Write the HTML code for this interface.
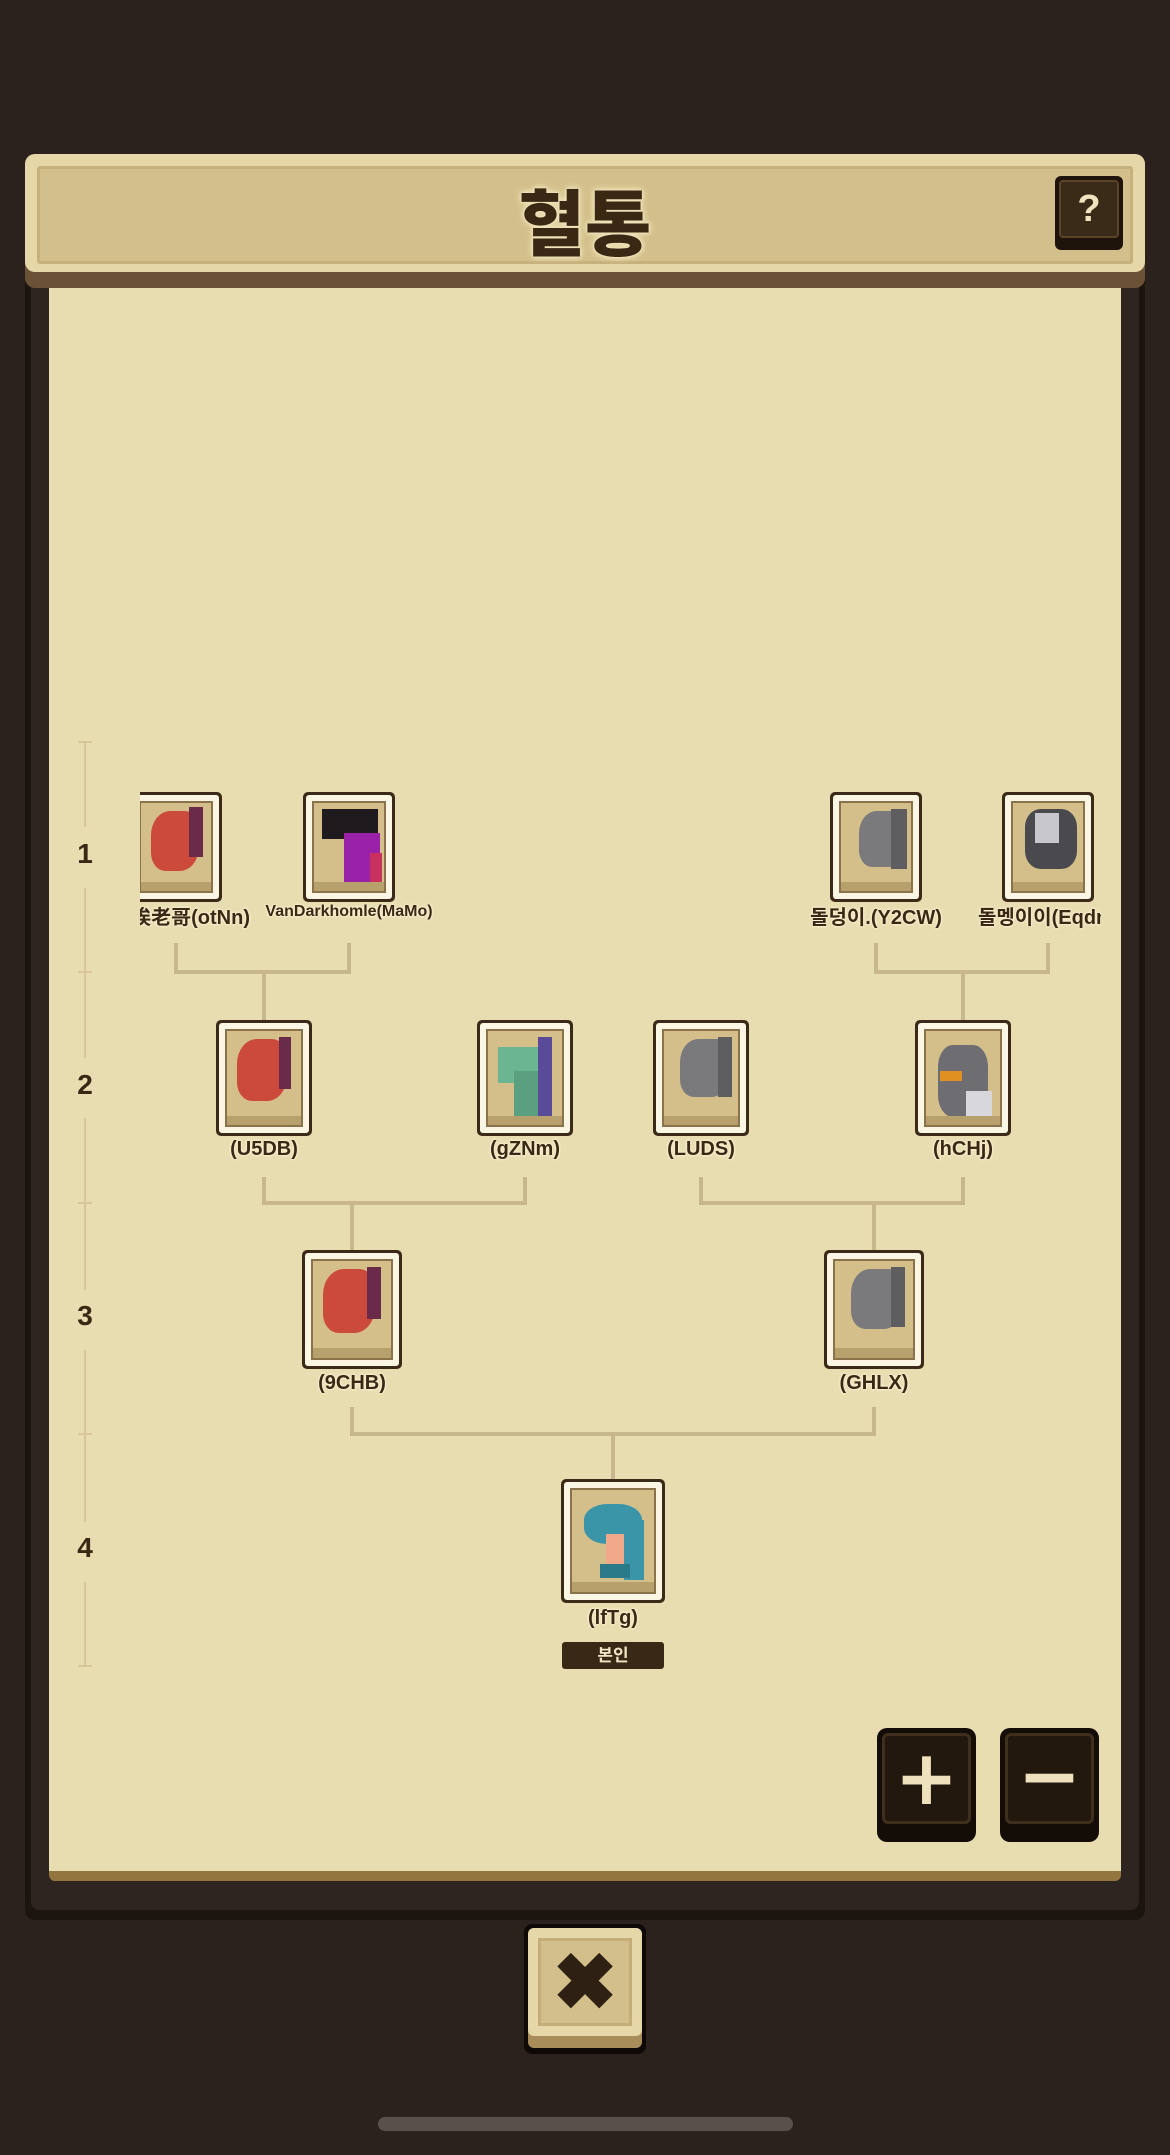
<!DOCTYPE html>
<html><head><meta charset="utf-8"><style>
*{margin:0;padding:0;box-sizing:border-box}
body{width:1170px;height:2155px;background:#2b211d;position:relative;overflow:hidden;font-family:"Liberation Sans","Noto Sans CJK KR",sans-serif}
.a{position:absolute}
.frame{left:25px;top:270px;width:1120px;height:1650px;background:#1c140f;border-radius:10px}
.frame2{left:31px;top:276px;width:1108px;height:1634px;background:#2f2520;border-radius:8px}
.paper{left:49px;top:285px;width:1072px;height:1596px;background:#e8ddb0;border-bottom:10px solid #93763f;border-radius:0 0 6px 6px}
.hdr{left:25px;top:154px;width:1120px;height:134px;background:#6b5236;border-radius:10px}
.hdr1{left:25px;top:154px;width:1120px;height:118px;background:#e6d7a8;border-radius:10px}
.hdr2{left:37px;top:166px;width:1096px;height:98px;background:#d3bf8b;border:3px solid #c6b07c;border-radius:3px}
.title{left:0;width:1170px;top:166px;text-align:center;font-size:72px;font-weight:900;color:#3a2815;text-shadow:0 0 8px #efe2b8,0 0 6px #efe2b8,0 0 4px #efe2b8,0 0 2px #efe2b8}
.q{left:1055px;top:176px;width:68px;height:74px;background:#1e140c;border-radius:6px}
.q div{position:absolute;left:4px;top:4px;width:60px;height:58px;background:#3a2a18;border:2px solid #5a4328;border-radius:4px;color:#f0e3c0;font-size:38px;font-weight:bold;text-align:center;line-height:54px}
.card{position:absolute;background:#3b2a18;border-radius:5px;padding:3px}
.card .f{width:100%;height:100%;background:#fbf5e4;border-radius:3px;padding:6px}
.card .i{width:100%;height:100%;background:#d4bf8a;border:2px solid #8a734a;position:relative;overflow:hidden}
.card .i:after{content:"";position:absolute;left:0;right:0;bottom:0;height:10%;background:#b8a06c}
.lbl{position:absolute;font-size:20px;font-weight:bold;color:#3a2815;text-align:center;white-space:nowrap;text-shadow:0 0 3px #fff6dc,0 0 2px #fff6dc}
.ln{position:absolute;background:#c8b78e}
.gl{position:absolute;font-size:28px;font-weight:bold;color:#3a2815;left:70px;width:30px;text-align:center}
.btn{position:absolute;background:#140c06;border-radius:10px}
.btn div{position:absolute;left:5px;top:5px;right:5px;bottom:18px;background:#23180e;border:3px solid #3f2f1c;border-radius:6px;color:#efe1bd;text-align:center;font-weight:bold;font-family:"DejaVu Sans",sans-serif}
</style></head><body>
<div class="a frame"></div><div class="a frame2"></div>
<div class="a paper"></div>
<div class="a hdr"></div><div class="a hdr1"></div><div class="a hdr2"></div>
<div class="a title">혈통</div>
<div class="a q"><div>?</div></div>

<div class="ln" style="left:84px;top:742px;width:2px;height:85px;background:#d8c69a"></div>
<div class="ln" style="left:84px;top:888px;width:2px;height:170px;background:#d8c69a"></div>
<div class="ln" style="left:84px;top:1118px;width:2px;height:172px;background:#d8c69a"></div>
<div class="ln" style="left:84px;top:1350px;width:2px;height:172px;background:#d8c69a"></div>
<div class="ln" style="left:84px;top:1582px;width:2px;height:85px;background:#d8c69a"></div>
<div class="ln" style="left:78px;top:741px;width:14px;height:2px;background:#d8c69a"></div>
<div class="ln" style="left:78px;top:971px;width:14px;height:2px;background:#d8c69a"></div>
<div class="ln" style="left:78px;top:1202px;width:14px;height:2px;background:#d8c69a"></div>
<div class="ln" style="left:78px;top:1433px;width:14px;height:2px;background:#d8c69a"></div>
<div class="ln" style="left:78px;top:1665px;width:14px;height:2px;background:#d8c69a"></div>
<div class="gl" style="top:838px">1</div>
<div class="gl" style="top:1069px">2</div>
<div class="gl" style="top:1300px">3</div>
<div class="gl" style="top:1532px">4</div>

<div class="ln" style="left:174px;top:943px;width:4px;height:31px"></div>
<div class="ln" style="left:347px;top:943px;width:4px;height:31px"></div>
<div class="ln" style="left:174px;top:970px;width:177px;height:4px"></div>
<div class="ln" style="left:262px;top:970px;width:4px;height:52px"></div>
<div class="ln" style="left:874px;top:943px;width:4px;height:31px"></div>
<div class="ln" style="left:1046px;top:943px;width:4px;height:31px"></div>
<div class="ln" style="left:874px;top:970px;width:176px;height:4px"></div>
<div class="ln" style="left:961px;top:970px;width:4px;height:52px"></div>

<div class="ln" style="left:262px;top:1177px;width:4px;height:28px"></div>
<div class="ln" style="left:523px;top:1177px;width:4px;height:28px"></div>
<div class="ln" style="left:262px;top:1201px;width:265px;height:4px"></div>
<div class="ln" style="left:350px;top:1201px;width:4px;height:51px"></div>
<div class="ln" style="left:699px;top:1177px;width:4px;height:28px"></div>
<div class="ln" style="left:961px;top:1177px;width:4px;height:28px"></div>
<div class="ln" style="left:699px;top:1201px;width:266px;height:4px"></div>
<div class="ln" style="left:872px;top:1201px;width:4px;height:51px"></div>

<div class="ln" style="left:350px;top:1407px;width:4px;height:29px"></div>
<div class="ln" style="left:872px;top:1407px;width:4px;height:29px"></div>
<div class="ln" style="left:350px;top:1432px;width:526px;height:4px"></div>
<div class="ln" style="left:611px;top:1432px;width:4px;height:49px"></div>

<div class="a" style="left:140px;top:780px;width:961px;height:160px;overflow:hidden">
 <div class="card" style="left:-10px;top:12px;width:92px;height:110px"><div class="f"><div class="i"><div class="a" style="left:10px;top:8px;width:48px;height:60px;background:#cc4a3c;border-radius:40% 30% 40% 30%"></div><div class="a" style="left:48px;top:4px;width:14px;height:50px;background:#6a2a4a"></div></div></div></div>
 <div class="card" style="left:163px;top:12px;width:92px;height:110px"><div class="f"><div class="i"><div class="a" style="left:8px;top:6px;width:56px;height:30px;background:#1e1a1e"></div><div class="a" style="left:30px;top:30px;width:36px;height:56px;background:#9a22a8"></div><div class="a" style="left:56px;top:50px;width:12px;height:36px;background:#c83060"></div></div></div></div>
 <div class="card" style="left:690px;top:12px;width:92px;height:110px"><div class="f"><div class="i"><div class="a" style="left:18px;top:8px;width:44px;height:56px;background:#7a7a7c;border-radius:40% 20% 30% 30%"></div><div class="a" style="left:50px;top:6px;width:16px;height:60px;background:#5e5e60"></div></div></div></div>
 <div class="card" style="left:862px;top:12px;width:92px;height:110px"><div class="f"><div class="i"><div class="a" style="left:12px;top:6px;width:52px;height:60px;background:#4a4a4e;border-radius:30%"></div><div class="a" style="left:22px;top:10px;width:24px;height:30px;background:#c8c8cc"></div></div></div></div>
 <div class="lbl" style="left:-60px;top:121px;width:170px;text-align:right">诶老哥(otNn)</div>
 <div class="lbl" style="left:109px;top:123px;width:200px;font-size:16px">VanDarkhomle(MaMo)</div>
 <div class="lbl" style="left:636px;top:121px;width:200px">돌덩이.(Y2CW)</div>
 <div class="lbl" style="left:838px;top:121px;width:200px;text-align:left">돌멩이이(Eqdm</div>
</div>

<div class="card" style="left:216px;top:1020px;width:96px;height:116px"><div class="f"><div class="i"><div class="a" style="left:10px;top:8px;width:50px;height:62px;background:#cc4a3c;border-radius:40% 30% 40% 30%"></div><div class="a" style="left:52px;top:6px;width:12px;height:52px;background:#6a2a4a"></div></div></div></div>
<div class="card" style="left:477px;top:1020px;width:96px;height:116px"><div class="f"><div class="i"><div class="a" style="left:10px;top:16px;width:40px;height:36px;background:#6bb593"></div><div class="a" style="left:26px;top:40px;width:26px;height:50px;background:#5aa080"></div><div class="a" style="left:50px;top:6px;width:14px;height:80px;background:#5a4a9a"></div></div></div></div>
<div class="card" style="left:653px;top:1020px;width:96px;height:116px"><div class="f"><div class="i"><div class="a" style="left:16px;top:8px;width:46px;height:58px;background:#7a7a7c;border-radius:40% 20% 30% 30%"></div><div class="a" style="left:54px;top:6px;width:14px;height:60px;background:#5e5e60"></div></div></div></div>
<div class="card" style="left:915px;top:1020px;width:96px;height:116px"><div class="f"><div class="i"><div class="a" style="left:12px;top:14px;width:50px;height:72px;background:#6e6e72;border-radius:30%"></div><div class="a" style="left:14px;top:40px;width:22px;height:10px;background:#e09020"></div><div class="a" style="left:40px;top:60px;width:26px;height:26px;background:#d8d8dc"></div></div></div></div>
<div class="lbl" style="left:164px;top:1138px;width:200px">(U5DB)</div>
<div class="lbl" style="left:425px;top:1138px;width:200px">(gZNm)</div>
<div class="lbl" style="left:601px;top:1138px;width:200px">(LUDS)</div>
<div class="lbl" style="left:863px;top:1138px;width:200px">(hCHj)</div>

<div class="card" style="left:302px;top:1250px;width:100px;height:119px"><div class="f"><div class="i"><div class="a" style="left:10px;top:8px;width:52px;height:64px;background:#cc4a3c;border-radius:40% 30% 40% 30%"></div><div class="a" style="left:54px;top:6px;width:14px;height:52px;background:#6a2a4a"></div></div></div></div>
<div class="card" style="left:824px;top:1250px;width:100px;height:119px"><div class="f"><div class="i"><div class="a" style="left:16px;top:8px;width:48px;height:60px;background:#7a7a7c;border-radius:40% 20% 30% 30%"></div><div class="a" style="left:56px;top:6px;width:14px;height:60px;background:#5e5e60"></div></div></div></div>
<div class="lbl" style="left:252px;top:1372px;width:200px">(9CHB)</div>
<div class="lbl" style="left:774px;top:1372px;width:200px">(GHLX)</div>

<div class="card" style="left:561px;top:1479px;width:104px;height:124px"><div class="f"><div class="i"><div class="a" style="left:12px;top:14px;width:58px;height:40px;background:#3a95a8;border-radius:40%"></div><div class="a" style="left:34px;top:44px;width:18px;height:30px;background:#f0a888"></div><div class="a" style="left:52px;top:30px;width:20px;height:60px;background:#3a95a8"></div><div class="a" style="left:28px;top:74px;width:30px;height:14px;background:#2a7a8a"></div></div></div></div>
<div class="lbl" style="left:513px;top:1607px;width:200px">(lfTg)</div>
<div class="a" style="left:562px;top:1642px;width:102px;height:27px;background:#3a2816;border-radius:3px;color:#f2e6c4;font-size:17px;font-weight:bold;text-align:center;line-height:27px">본인</div>

<div class="btn" style="left:877px;top:1728px;width:99px;height:114px"><div style="font-size:76px;line-height:84px">+</div></div>
<div class="btn" style="left:1000px;top:1728px;width:99px;height:114px"><div style="font-size:76px;line-height:80px">−</div></div>

<div class="a" style="left:524px;top:1924px;width:122px;height:130px;background:#0e0906;border-radius:8px"></div>
<div class="a" style="left:528px;top:1928px;width:114px;height:120px;background:#a88d5a;border-radius:6px"></div>
<div class="a" style="left:528px;top:1928px;width:114px;height:108px;background:#e6d7a8;border-radius:6px"></div>
<div class="a" style="left:538px;top:1938px;width:94px;height:88px;background:#d3bf8b;border:3px solid #c4ad78;color:#2e2012;font-size:78px;font-weight:bold;text-align:center;line-height:82px">✖</div>

<div class="a" style="left:378px;top:2117px;width:415px;height:14px;background:#5a504b;border-radius:7px"></div>
</body></html>
